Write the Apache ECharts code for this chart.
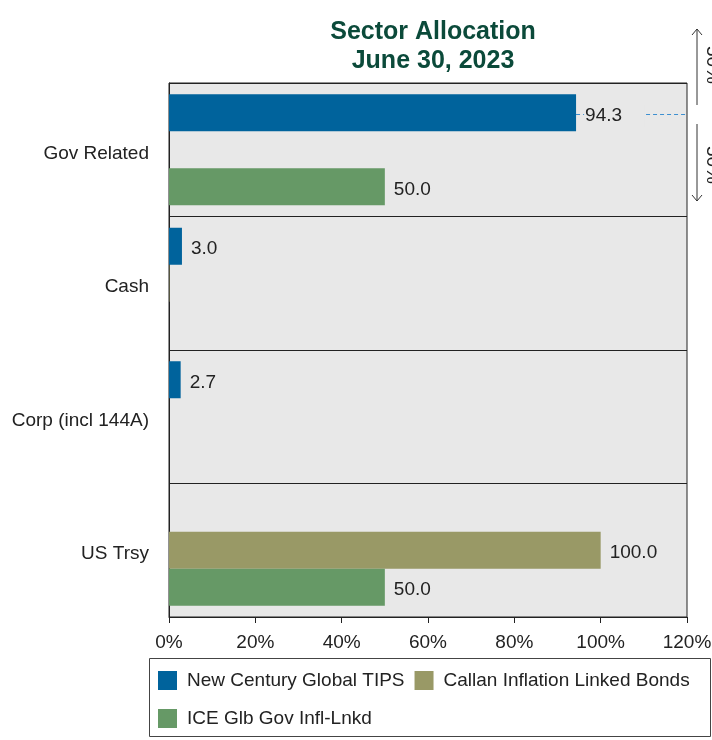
<!DOCTYPE html>
<html>
<head>
<meta charset="utf-8">
<script src="https://cdn.jsdelivr.net/npm/echarts@6/dist/echarts.min.js"></script>
<style>
  html, body { margin: 0; padding: 0; background: #fff; }
  #chart1 { width: 712px; height: 740px; }
</style>
</head>
<body>
<div id="chart1"></div>
<script>
var categories = ['Gov Related', 'Cash', 'Corp (incl 144A)', 'US Trsy'];
var seriesNames = ['New Century Global TIPS', 'Callan Inflation Linked Bonds', 'ICE Glb Gov Infl-Lnkd'];
var newCentury = [94.3, 3.0, 2.7, null];
var callan = [null, 0.1, null, 100.0];
var iceIndex = [50.0, null, null, 50.0];
var xTicks = [0, 20, 40, 60, 80, 100, 120];

var colors = ['#00639c', '#999966', '#669966'];
var font = 'Arial, "Liberation Sans", sans-serif';

var chart1 = echarts.init(document.getElementById('chart1'));

function barSeries(name, data, color) {
    return {
        name: name,
        type: 'bar',
        data: data,
        barWidth: 37,
        barGap: '0%',
        itemStyle: { color: color },
        label: {
            show: true,
            position: 'right',
            distance: 8,
            offset: [0, 3],
            color: '#222',
            fontSize: 19,
            fontFamily: font,
            backgroundColor: '#e8e8e8',
            padding: [2, 22, 2, 1],
            formatter: function (p) {
                // tiny slivers get no label
                if (p.value == null || p.value < 0.5) return '';
                return p.value.toFixed(1);
            }
        }
    };
}

var legendText = { fontSize: 19, color: '#222', fontFamily: font, padding: [0, 0, 0, 5] };

var option = {
    animation: false,
    backgroundColor: '#fff',
    title: {
        text: 'Sector Allocation\nJune 30, 2023',
        left: 428,
        textAlign: 'center',
        top: 13,
        textStyle: {
            color: '#0b4a3a',
            fontSize: 25,
            fontWeight: 'bold',
            fontFamily: font,
            lineHeight: 29
        }
    },
    legend: [{
        data: seriesNames.slice(0, 2),
        left: 158,
        top: 671,
        padding: 0,
        itemGap: 10,
        itemWidth: 19,
        itemHeight: 19,
        icon: 'rect',
        textStyle: legendText
    }, {
        data: seriesNames.slice(2),
        left: 158,
        top: 709,
        padding: 0,
        itemWidth: 19,
        itemHeight: 19,
        icon: 'rect',
        textStyle: legendText
    }],
    grid: {
        left: 169,
        right: 25,
        top: 83,
        bottom: 123,
        outerBoundsMode: 'none',
        containLabel: false,
        show: true,
        backgroundColor: '#e8e8e8',
        borderColor: '#222',
        borderWidth: 1
    },
    xAxis: {
        type: 'value',
        min: xTicks[0],
        max: xTicks[xTicks.length - 1],
        interval: 20,
        axisLine: { show: true, lineStyle: { color: '#222' } },
        axisTick: { show: true, length: 6, lineStyle: { color: '#222' } },
        splitLine: { show: false },
        axisLabel: {
            color: '#222',
            fontSize: 19,
            fontFamily: font,
            margin: 16,
            formatter: '{value}%'
        }
    },
    yAxis: {
        type: 'category',
        data: categories,
        inverse: true,
        axisLine: { show: true, lineStyle: { color: '#222' } },
        axisTick: { show: false },
        splitLine: { show: true, lineStyle: { color: '#222', width: 1 } },
        axisLabel: {
            margin: 20,
            formatter: function (v) { return '{c|' + v + '}'; },
            rich: {
                c: { color: '#222', fontSize: 19, fontFamily: font, padding: [8, 0, 0, 0] }
            }
        }
    },
    series: [
        barSeries(seriesNames[0], newCentury, colors[0]),
        barSeries(seriesNames[1], callan, colors[1]),
        barSeries(seriesNames[2], iceIndex, colors[2])
    ]
};
chart1.setOption(option);

// leader line for the top bar, plus the odd margin arrows
var x0 = chart1.convertToPixel({ xAxisIndex: 0 }, newCentury[0]);
var x1 = chart1.convertToPixel({ xAxisIndex: 0 }, xTicks[xTicks.length - 1]);
var yc = Math.round(chart1.convertToPixel({ yAxisIndex: 0 }, categories[0]) - 36) + 0.5;

chart1.setOption({
    graphic: [
        {
            type: 'line', z: 1,
            shape: { x1: x0, y1: yc, x2: x1 - 1, y2: yc },
            style: { stroke: '#3d8fd0', lineWidth: 1, lineDash: [4, 3] }
        },
        { type: 'line', shape: { x1: 697, y1: 29, x2: 697, y2: 105 }, style: { stroke: '#333', lineWidth: 1 } },
        { type: 'polyline', shape: { points: [[692, 35], [697, 29], [702, 35]] }, style: { stroke: '#333', fill: null, lineWidth: 1 } },
        { type: 'line', shape: { x1: 697, y1: 124, x2: 697, y2: 201 }, style: { stroke: '#333', lineWidth: 1 } },
        { type: 'polyline', shape: { points: [[692, 195], [697, 201], [702, 195]] }, style: { stroke: '#333', fill: null, lineWidth: 1 } },
        {
            type: 'text', x: 712, y: 65, rotation: -Math.PI / 2,
            style: { text: '50%', fill: '#222', fontSize: 19, fontFamily: font, align: 'center', verticalAlign: 'middle' }
        },
        {
            type: 'text', x: 712, y: 165, rotation: -Math.PI / 2,
            style: { text: '50%', fill: '#222', fontSize: 19, fontFamily: font, align: 'center', verticalAlign: 'middle' }
        },
        {
            type: 'rect',
            shape: { x: 149.5, y: 658.5, width: 561, height: 78 },
            style: { fill: null, stroke: '#444', lineWidth: 1 }
        }
    ]
});
</script>
</body>
</html>
